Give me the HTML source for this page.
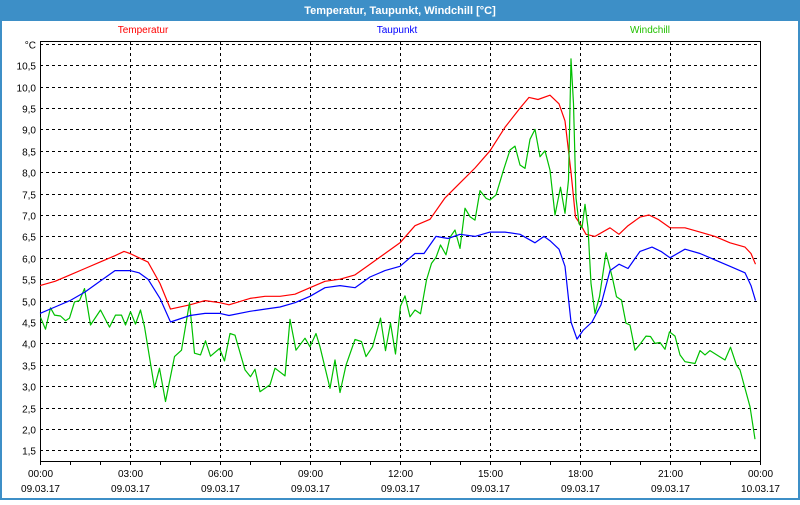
<!DOCTYPE html>
<html><head><meta charset="utf-8"><style>
html,body{margin:0;padding:0;background:#fff}
body{width:800px;height:500px;overflow:hidden;font-family:"Liberation Sans",sans-serif}
</style></head><body>
<svg id="chart" width="800" height="500" xmlns="http://www.w3.org/2000/svg" font-family="Liberation Sans, sans-serif">
<rect x="0" y="0" width="800" height="500" fill="#3d8fc7"/>
<rect x="2" y="21" width="796" height="477" fill="#ffffff"/>
<text x="400" y="14" text-anchor="middle" font-size="11" font-weight="bold" fill="#ffffff">Temperatur, Taupunkt, Windchill [°C]</text>
<text x="143" y="33" text-anchor="middle" font-size="10" fill="#ff0000">Temperatur</text>
<text x="397" y="33" text-anchor="middle" font-size="10" fill="#0000ff">Taupunkt</text>
<text x="650" y="33" text-anchor="middle" font-size="10" fill="#22c000">Windchill</text>
<g id="grid"></g>
<g id="axes"></g>
<g id="series"></g>
</svg>
<script>
const yTicks = [1.5,2.0,2.5,3.0,3.5,4.0,4.5,5.0,5.5,6.0,6.5,7.0,7.5,8.0,8.5,9.0,9.5,10.0,10.5];
const xTickHours = [0,3,6,9,12,15,18,21,24];
const xTickTimes = ["00:00","03:00","06:00","09:00","12:00","15:00","18:00","21:00","00:00"];
const xTickDates = ["09.03.17","09.03.17","09.03.17","09.03.17","09.03.17","09.03.17","09.03.17","09.03.17","10.03.17"];

const tempHours = [0,0.5,1,1.5,2,2.5,2.8,3.0,3.3,3.6,4.0,4.35,5,5.5,6,6.3,7,7.5,8,8.5,9,9.5,10,10.5,11,11.5,12,12.5,13,13.5,14,14.5,15,15.5,16,16.3,16.6,17,17.3,17.5,17.7,17.85,18,18.2,18.5,19,19.3,19.6,20,20.3,20.6,21,21.5,22,22.5,23,23.5,23.7,23.85];
const tempValues = [5.35,5.45,5.6,5.75,5.9,6.05,6.15,6.1,6.0,5.9,5.4,4.8,4.9,5.0,4.95,4.9,5.05,5.1,5.1,5.15,5.3,5.45,5.5,5.6,5.85,6.1,6.35,6.75,6.9,7.4,7.75,8.1,8.5,9.05,9.5,9.75,9.7,9.8,9.6,9.2,8.0,6.95,6.8,6.55,6.5,6.7,6.55,6.75,6.95,7.0,6.9,6.7,6.7,6.6,6.5,6.35,6.25,6.1,5.85];

const dewHours = [0,0.5,1,1.5,2,2.5,3.0,3.3,3.6,4.0,4.35,5,5.5,6,6.3,7,7.5,8,8.5,9,9.5,10,10.5,11,11.5,12,12.5,12.8,13.2,13.6,14,14.5,15,15.5,16,16.5,16.8,17,17.3,17.5,17.7,17.9,18.1,18.4,18.7,19,19.3,19.6,20,20.4,20.7,21,21.5,22,22.5,23,23.5,23.7,23.85];
const dewValues = [4.7,4.85,5.0,5.2,5.45,5.7,5.7,5.65,5.5,5.05,4.5,4.65,4.7,4.7,4.65,4.75,4.8,4.85,4.95,5.1,5.3,5.35,5.3,5.55,5.7,5.8,6.1,6.1,6.5,6.45,6.55,6.5,6.6,6.6,6.55,6.35,6.5,6.4,6.2,5.8,4.5,4.1,4.3,4.5,4.9,5.7,5.85,5.75,6.15,6.25,6.15,6.0,6.2,6.1,5.95,5.8,5.65,5.35,5.0];

const chillMinutes = [1,11,21,29,41,51,59,69,79,89,101,121,139,151,163,171,181,191,201,209,229,239,251,269,283,299,309,321,331,341,359,369,380,390,410,421,430,440,460,470,490,500,512,530,540,552,560,580,590,600,612,630,643,652,665,681,691,701,711,721,730,740,750,761,773,783,792,801,812,820,830,840,850,860,870,880,892,900,912,927,940,950,960,970,980,990,1000,1010,1020,1030,1041,1050,1057,1062,1067,1072,1078,1084,1090,1096,1102,1110,1119,1132,1145,1153,1163,1172,1180,1190,1200,1212,1221,1230,1240,1250,1259,1270,1280,1290,1310,1320,1330,1340,1359,1370,1381,1393,1400,1420,1430];
const chillValues = [4.61,4.33,4.83,4.66,4.64,4.53,4.59,4.97,5.0,5.28,4.43,4.78,4.38,4.66,4.66,4.43,4.74,4.45,4.78,4.39,2.96,3.42,2.64,3.69,3.84,4.95,3.77,3.73,4.06,3.70,3.88,3.59,4.23,4.19,3.38,3.22,3.39,2.87,3.03,3.42,3.24,4.56,3.84,4.12,3.92,4.23,3.92,2.95,3.61,2.85,3.49,4.09,4.04,3.69,3.92,4.59,3.83,4.47,3.75,4.87,5.11,4.62,4.78,4.69,5.48,5.87,6.01,6.30,6.07,6.48,6.65,6.22,7.16,6.96,6.88,7.57,7.39,7.35,7.47,8.05,8.52,8.61,8.17,8.09,8.77,9.0,8.36,8.5,8.05,7.0,7.65,7.04,7.82,10.65,9.6,7.4,6.8,6.7,7.25,6.7,5.4,4.70,5.09,6.12,5.52,5.09,5.01,4.47,4.43,3.84,3.98,4.17,4.16,4.0,4.02,3.86,4.27,4.17,3.73,3.57,3.53,3.83,3.73,3.83,3.69,3.61,3.91,3.49,3.38,2.52,1.76];

const X0 = 40, X1 = 760, Y_BOTTOM = 461, Y_TOP = 41;
function xScale(h){ return X0 + (X1 - X0) * h / 24; }
function yScale(v){ return 450.3 - (v - 1.5) * 42.78; }
const NS = "http://www.w3.org/2000/svg";
function mk(tag, attrs, parent){ const e = document.createElementNS(NS, tag); for (const k in attrs) e.setAttribute(k, attrs[k]); parent.appendChild(e); return e; }

const grid = document.getElementById('grid');
const axes = document.getElementById('axes');
const series = document.getElementById('series');

// horizontal gridlines + labels
yTicks.forEach(v => {
  const y = Math.round(yScale(v)) + 0.5;
  const l = mk('line', {x1: X0, x2: X1, y1: y, y2: y, stroke: '#000', 'stroke-width': 1, 'stroke-dasharray': '3,3'}, grid);
  
  
  const t = mk('text', {x: 36, y: y + 4, 'text-anchor': 'end', 'font-size': 10, fill: '#000'}, axes);
  t.textContent = v.toFixed(1).replace('.', ',');
  
  
});
// unit gridline at 11.0
{
  const y = Math.round(yScale(11.0)) + 0.5;
  const l = mk('line', {x1: X0, x2: X1, y1: y, y2: y, stroke: '#000', 'stroke-width': 1, 'stroke-dasharray': '3,3'}, grid);
  
  
  const t = mk('text', {x: 36, y: y + 4, 'text-anchor': 'end', 'font-size': 10, fill: '#000'}, axes);
  t.textContent = '°C';
  
  
}
// vertical gridlines + labels
xTickHours.forEach((h, i) => {
  const x = Math.round(xScale(h)) + 0.5;
  if (h > 0 && h < 24) {
    const l = mk('line', {x1: x, x2: x, y1: Y_TOP, y2: Y_BOTTOM, stroke: '#000', 'stroke-width': 1, 'stroke-dasharray': '3,3'}, grid);
    
    
  }
  const t1 = mk('text', {x: x, y: 477, 'text-anchor': 'middle', 'font-size': 10, fill: '#000'}, axes);
  t1.textContent = xTickTimes[i];
  
  
  const t2 = mk('text', {x: x, y: 492, 'text-anchor': 'middle', 'font-size': 10, fill: '#000'}, axes);
  t2.textContent = xTickDates[i];
  
  
});
for (let h = 0; h <= 24; h++) {
  const x = Math.round(xScale(h)) + 0.5;
  const tk = mk('line', {x1: x, x2: x, y1: Y_BOTTOM, y2: Y_BOTTOM + 4, stroke: '#000', 'stroke-width': 1}, axes);
  
  
}
// frame
{
  const f = mk('rect', {x: X0 + 0.5, y: Y_TOP + 0.5, width: X1 - X0, height: Y_BOTTOM - Y_TOP, fill: 'none', stroke: '#000', 'stroke-width': 1}, axes);
  
  
}
function drawLine(xs, ys, color, name){
  const pts = xs.map((h, i) => xScale(h).toFixed(1) + ',' + yScale(ys[i]).toFixed(1)).join(' ');
  const p = mk('polyline', {points: pts, fill: 'none', stroke: color, 'stroke-width': 1.2, 'stroke-linejoin': 'round'}, series);
  
  
}
drawLine(tempHours, tempValues, '#ff0000', 'temperatur-line');
drawLine(chillMinutes.map(m => m / 60), chillValues, '#00c000', 'windchill-line');
drawLine(dewHours, dewValues, '#0000ff', 'taupunkt-line');
</script>
</body></html>
